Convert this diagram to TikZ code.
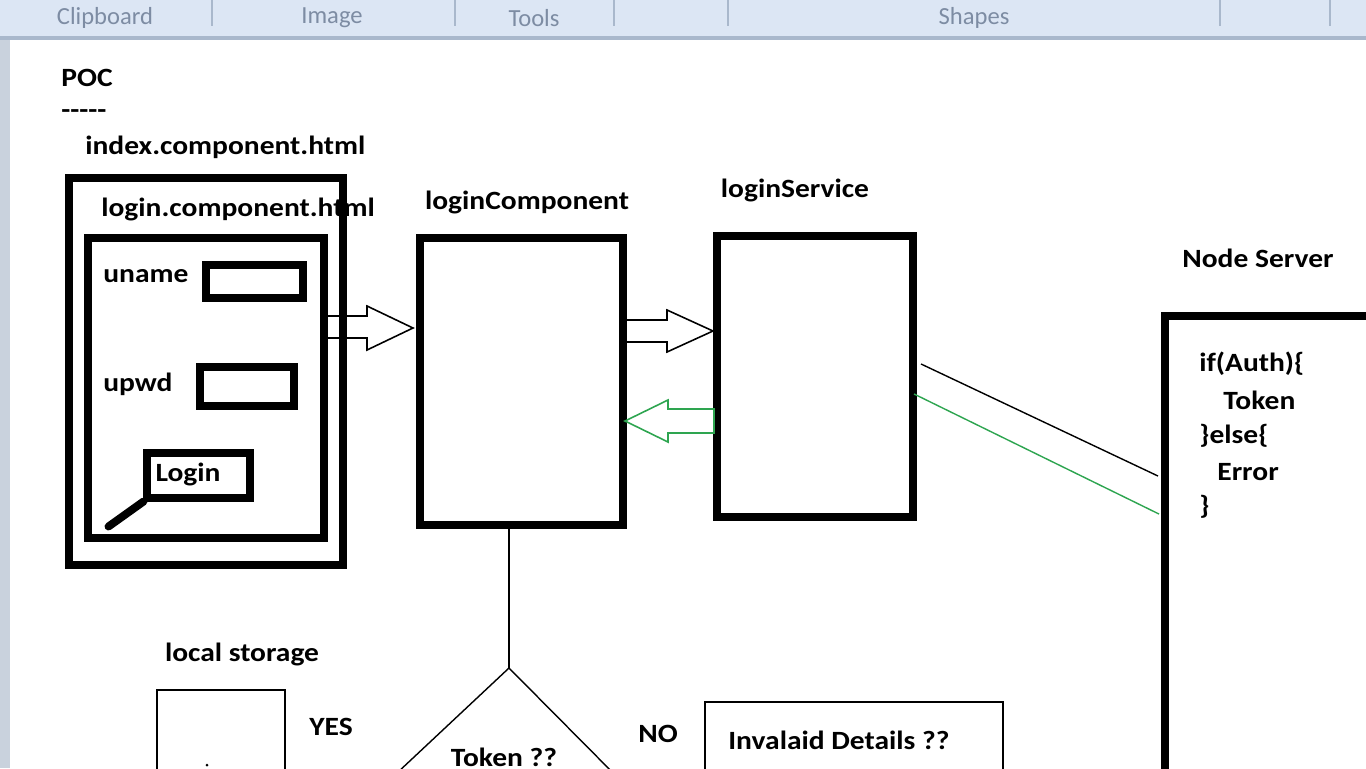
\documentclass[tikz,border=0pt]{standalone}
\usepackage{fontspec}
\setmainfont{Carlito}
\newfontfamily\widefont{Carlito}[FakeStretch=1.12]
\usetikzlibrary{calc}
\definecolor{barblue}{HTML}{DCE6F4}
\definecolor{barline}{HTML}{A9B8CC}
\definecolor{bartext}{HTML}{7D8CA3}
\definecolor{okgreen}{HTML}{2EA550}
\tikzset{
  thickbox/.style={draw, line width=4.6pt, minimum width=#1, inner sep=0pt},
  fieldbox/.style={draw, line width=4pt, inner sep=0pt},
  thinbox/.style={draw, line width=1.2pt, inner sep=0pt},
  label/.style={font=\widefont\bfseries\fontsize{15}{17}\selectfont, inner sep=0pt},
  tab/.style={font=\fontsize{14}{16}\selectfont, text=bartext, inner sep=0pt},
  blockarrow/.style={draw, line width=0.9pt, line join=miter},
  link/.style={draw, line width=0.8pt}
}

\begin{document}
\begin{tikzpicture}[x=0.02cm, y=-0.02cm]
  \useasboundingbox (0,0) rectangle (1366,768);
  \clip (0,0) rectangle (1366,768);
  \fill[white] (0,0) rectangle (1366,768);

  % ribbon
  \fill[barblue] (0,0) rectangle (1366,37);
  \fill[barline] (0,36) rectangle (1366,40);
  \fill[barblue!80!gray] (0,40) rectangle (10,768);
  \foreach \sx in {212,455,614,728,1220,1330}
    \draw[barline, line width=0.6pt] (\sx,0) -- (\sx,26);
  \node[tab] (clip) at (105,18) {Clipboard};
  \node[tab] (img) at (332,18) {Image};
  \node[tab] (tools) at (534,18) {Tools};
  \node[tab] (shapes) at (974,18) {Shapes};

  % page
  \node[label, anchor=west] (poc) at (61,78) {POC};
  \node[label, anchor=west] (dash) at (61,114) {-{}-{}-{}-{}-};
  \node[label, anchor=west] (indexhtml) at (85,147) {index.component.html};
  \node[label, anchor=west] (loginhtml) at (101,209) {login.component.html};

  \node[thickbox=5.48cm, minimum height=7.74cm] (outer) at (206,371.5) {};
  \node[thickbox=4.72cm, minimum height=6cm] (inner) at (206,388) {};

  \node[label, anchor=west] (uname) at (103,276) {uname};
  \node[fieldbox, minimum width=1.94cm, minimum height=0.66cm] (unamefield) at (254.5,281.5) {};
  \node[label, anchor=west] (upwd) at (103,384) {upwd};
  \node[fieldbox, minimum width=1.88cm, minimum height=0.78cm] (upwdfield) at (247,386.5) {};
  \node[fieldbox, minimum width=2.06cm, minimum height=0.9cm] (loginbtn) at (198.5,475.5) {};
  \node[label] (logintxt) at (188,474) {Login};
  \draw[line width=4.5pt, line cap=round] (loginbtn.south west) -- ++(-35,25);

  % components
  \node[label] (comptitle) at (527,202) {loginComponent};
  \node[thickbox=4.06cm, minimum height=5.74cm] (comp) at (521.5,381.5) {};
  \node[label] (svctitle) at (795,190) {loginService};
  \node[thickbox=3.92cm, minimum height=5.62cm] (svc) at (815,376.5) {};
  \node[label] (servertitle) at (1258,258) {Node Server};
  \node[thickbox=5.4cm, minimum height=11.36cm] (server) at (1300,600) {};

  \node[label, anchor=west] (if) at (1199,364) {if(Auth)\{};
  \node[label, anchor=west] (tok) at (1223,400) {Token};
  \node[label, anchor=west] (else) at (1199,436) {\}else\{};
  \node[label, anchor=west] (err) at (1217,472) {Error};
  \node[label, anchor=west] (close) at (1199,507) {\}};

  % block arrows
  \draw[blockarrow] (325,316) -- (367,316) -- (367,306) -- (413,328)
    -- (367,350) -- (367,338) -- (325,338);
  \draw[blockarrow] (627,320) -- (667,320) -- (667,310) -- (713,331)
    -- (667,352) -- (667,342) -- (627,342);
  \draw[blockarrow, okgreen] (714,409) -- (668,409) -- (668,400) -- (625,421)
    -- (668,442) -- (668,433) -- (714,433) -- cycle;

  % server links
  \draw[link] ($(svc.north east)+(4,132)$) -- ($(server.north west)+(-3,164)$);
  \draw[link, okgreen] ($(svc.north east)+(-3,162)$) -- ($(server.north west)+(-2,202)$);

  % decision
  \coordinate (apex) at (509,668);
  \draw[link] (apex |- comp.south) -- (apex);
  \draw[link] (apex) -- ($(apex)+(-128,120)$);
  \draw[link] (apex) -- ($(apex)+(119,120)$);
  \node[label] (token) at (504,757) {Token ??};

  \node[label] (storagetitle) at (242,654) {local storage};
  \node[thinbox, minimum width=2.56cm, minimum height=2.8cm] (storage) at (221,760) {};
  \fill (207,765) circle (1.5);
  \node[label] (yes) at (331,727) {YES};
  \node[label] (no) at (658,734) {NO};
  \node[thinbox, minimum width=5.96cm, minimum height=2.72cm] (invalid) at (854,770) {};
  \node[label, anchor=west] (invalidtxt) at (728,740) {Invalaid Details ??};
\end{tikzpicture}
\end{document}
